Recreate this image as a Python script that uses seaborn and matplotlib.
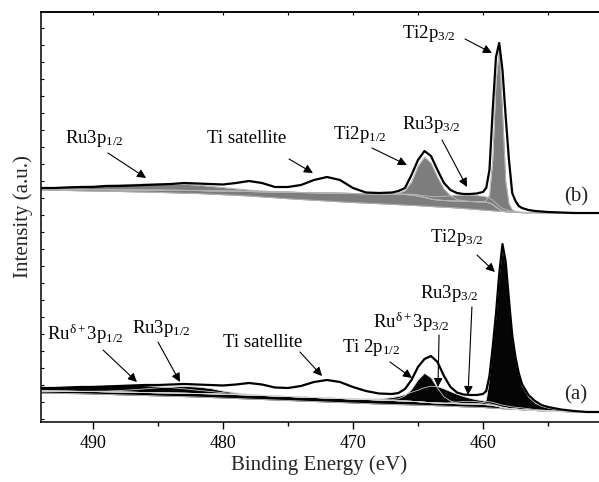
import matplotlib
matplotlib.use('Agg')
import matplotlib.pyplot as plt
import seaborn as sns

# ---------------- data (binding energy grid, eV) ----------------
be = [494, 493, 492, 491, 490, 489, 488, 487, 486, 485, 484, 483, 482, 481, 480,
      479, 478, 477, 476, 475, 474, 473, 472, 471, 470, 469, 468, 467,
      466.5, 466, 465.5, 465, 464.5, 464, 463.5, 463, 462.5, 462, 461.5, 461, 460.5, 460,
      459.75, 459.5, 459.25, 459, 458.75, 458.5, 458.25, 458, 457.75, 457.5, 457.25, 457,
      456.5, 456, 455.5, 455, 454, 453, 452, 451]

# ---- sample (b) ----
spec_b = [234, 234, 234.5, 235, 235, 236, 236, 236.5, 237, 237.5, 238, 239, 238.5, 238, 237.5,
          239, 241, 239, 235, 235, 237, 242, 245, 242, 234, 229.5, 229, 229.5,
          231, 234, 247, 262, 271, 266, 252, 239, 232, 229, 228, 228, 228.5, 230,
          234, 252, 312, 365, 379, 352, 305, 262, 229, 221, 216, 214,
          212, 211, 210.5, 210, 209.5, 209, 209, 209]
lin_b = [232, 231.8, 231.5, 231.2, 231, 230.8, 230.5, 230.2, 230, 229.6, 229.2, 228.8, 228.5, 227.9, 227.3,
         226.7, 226, 225.1, 224.2, 223.3, 222.5, 221.7, 221, 220.2, 219.5, 218.9, 218.3, 217.6,
         217.3, 217, 216.6, 216.3, 215.9, 215.5, 215.1, 214.8, 214.4, 214, 213.5, 213, 212.5, 212,
         211.7, 211.5, 211.2, 211, 210.7, 210.5, 210.2, 210, 209.8, 209.6, 209.5, 209.4,
         209.3, 209.3, 209.2, 209.2, 209.1, 209, 209, 209]
shirley_b = [233, 232.9, 232.8, 232.6, 232.5, 232.4, 232.3, 232.1, 232, 231.9, 231.7, 231.6, 231.5, 231.2, 231,
             230.8, 230.5, 230.3, 230, 229.8, 229.5, 229.3, 229, 228.8, 228.5, 228.3, 228, 227.8,
             227.7, 227.5, 227, 226, 224.5, 223, 222, 221.5, 221.2, 221, 220.8, 220.5, 220.3, 220,
             219.7, 219, 217.5, 215, 212.5, 211, 210.5, 210, 209.8, 209.6, 209.5, 209.4,
             209.3, 209.3, 209.2, 209.2, 209.1, 209, 209, 209]
ru3p12_b = [1.0, 1.5, 2.2, 2.9, 3.6, 4.3, 5.0, 5.5, 5.9, 6.2, 6.3, 6.1, 5.5, 4.6, 3.5,
            2.4, 1.5, 0.8, 0.4, 0.2, 0, 0, 0, 0, 0, 0, 0, 0,
            0, 0, 0, 0, 0, 0, 0, 0, 0, 0, 0, 0, 0, 0,
            0, 0, 0, 0, 0, 0, 0, 0, 0, 0, 0, 0,
            0, 0, 0, 0, 0, 0, 0, 0]
ti2p12_b = [0, 0, 0, 0, 0, 0, 0, 0, 0, 0, 0, 0, 0, 0, 0,
            0, 0, 0, 0, 0, 0, 0, 0, 0, 0, 0, 0, 0.3,
            1.2, 4, 13, 30, 40.5, 36, 23, 11.5, 5, 1.5, 0.4, 0.1, 0, 0,
            0, 0, 0, 0, 0, 0, 0, 0, 0, 0, 0, 0,
            0, 0, 0, 0, 0, 0, 0, 0]
ru3p32_b = [0, 0, 0, 0, 0, 0, 0, 0, 0, 0, 0, 0, 0, 0, 0,
            0, 0, 0, 0, 0, 0, 0, 0, 0, 0, 0, 0, 0,
            0, 0.5, 0.8, 1.2, 1.8, 2.5, 3.3, 4.2, 5, 5.8, 6.3, 6.5, 6.3, 5.8,
            5.4, 4.9, 4.4, 3.8, 3.2, 2.6, 2.0, 1.5, 1.1, 0.8, 0.5, 0.3,
            0.1, 0, 0, 0, 0, 0, 0, 0]
ti2p32_b = [0, 0, 0, 0, 0, 0, 0, 0, 0, 0, 0, 0, 0, 0, 0,
            0, 0, 0, 0, 0, 0, 0, 0, 0, 0, 0, 0, 0,
            0, 0, 0, 0, 0, 0, 0, 0, 0, 0, 0, 0, 0, 0.3,
            1.5, 8, 45, 125, 160, 100, 30, 8, 2.5, 1, 0.5, 0.3,
            0.1, 0, 0, 0, 0, 0, 0, 0]

# ---- sample (a) ----
spec_a = [34, 34, 34.5, 35, 35, 35.5, 36, 36.5, 37, 37, 37.5, 38, 37.5, 37, 36.5,
          37.5, 39, 37.5, 34.5, 34, 36, 40, 42, 40, 35, 31, 28.5, 28,
          29, 33, 42, 55, 63, 66, 60, 46, 35, 29.5, 27.5, 27, 27, 28,
          31, 46, 75, 108, 148, 178, 160, 122, 87, 65, 49, 38,
          27, 21, 17, 15, 12.5, 11, 10, 10]
lin_a = [29, 28.8, 28.5, 28.3, 28, 27.6, 27.2, 26.9, 26.5, 26.1, 25.7, 25.4, 25, 24.5, 24,
         23.5, 23, 22.5, 22, 21.5, 21, 20.5, 20, 19.5, 19, 18.5, 18, 17.6,
         17.4, 17.3, 17.1, 16.9, 16.7, 16.5, 16.2, 16, 15.7, 15.5, 15.2, 15, 14.8, 14.5,
         14.3, 14.1, 13.9, 13.7, 13.5, 13.3, 13.1, 13, 12.8, 12.6, 12.4, 12.2,
         11.8, 11.5, 11.2, 11, 10.5, 10.2, 10, 10]
shirley_a = [31, 30.9, 30.8, 30.6, 30.5, 30.2, 30, 29.8, 29.5, 29.2, 29, 28.8, 28.5, 28.2, 27.8,
             27.4, 27, 26.5, 26, 25.5, 25, 24.5, 24, 23.5, 23, 22.5, 22, 21.5,
             21.2, 21, 20.7, 20.3, 19.8, 19.3, 19, 18.7, 18.5, 18.3, 18.1, 18, 17.8, 17.5,
             17.3, 17, 16.6, 16, 15.2, 14.5, 14, 13.5, 13.2, 13, 12.7, 12.5,
             12, 11.5, 11.2, 11, 10.5, 10.2, 10, 10]
rud3p12_a = [2.5, 3.2, 4.0, 4.8, 5.5, 6.2, 6.7, 7.0, 6.9, 6.4, 5.5, 4.4, 3.3, 2.3, 1.5,
             0.9, 0.5, 0.2, 0.05, 0, 0, 0, 0, 0, 0, 0, 0, 0,
             0, 0, 0, 0, 0, 0, 0, 0, 0, 0, 0, 0, 0, 0,
             0, 0, 0, 0, 0, 0, 0, 0, 0, 0, 0, 0,
             0, 0, 0, 0, 0, 0, 0, 0]
ru3p12_a = [0, 0, 0.1, 0.2, 0.3, 0.7, 1.4, 2.4, 3.6, 5.0, 6.2, 6.9, 6.6, 5.5, 3.2,
            1.8, 0.8, 0.3, 0.1, 0, 0, 0, 0, 0, 0, 0, 0, 0,
            0, 0, 0, 0, 0, 0, 0, 0, 0, 0, 0, 0, 0, 0,
            0, 0, 0, 0, 0, 0, 0, 0, 0, 0, 0, 0,
            0, 0, 0, 0, 0, 0, 0, 0]
ti2p12_a = [0, 0, 0, 0, 0, 0, 0, 0, 0, 0, 0, 0, 0, 0, 0,
            0, 0, 0, 0, 0, 0, 0, 0, 0, 0, 0, 0.2, 0.8,
            2, 5, 12, 22, 29, 25, 15, 6.5, 2.5, 0.8, 0.3, 0.1, 0, 0,
            0, 0, 0, 0, 0, 0, 0, 0, 0, 0, 0, 0,
            0, 0, 0, 0, 0, 0, 0, 0]
rud3p32_a = [0, 0, 0, 0, 0, 0, 0, 0, 0, 0, 0, 0, 0, 0, 0,
             0, 0, 0, 0, 0, 0, 0, 0, 0, 0, 0.5, 1.2, 3,
             4.5, 6.5, 9, 11.5, 14.5, 16.5, 16.5, 14.5, 12, 9.5, 7.5, 5.8, 4.6, 3.8,
             3.5, 3.2, 3.0, 2.8, 2.6, 2.4, 2.3, 2.2, 1.9, 1.8, 1.7, 1.6,
             1.3, 1.0, 0.8, 0.6, 0.3, 0.1, 0, 0]
ru3p32_a = [0, 0, 0, 0, 0, 0, 0, 0, 0, 0, 0, 0, 0, 0, 0,
            0, 0, 0, 0, 0, 0, 0, 0, 0, 0, 0, 0, 0,
            0, 0, 0, 0, 0, 0, 0, 0.3, 0.8, 1.6, 2.4, 2.7, 2.5, 1.9,
            1.6, 1.3, 1.0, 0.8, 0.6, 0.4, 0.3, 0.2, 0.1, 0, 0, 0,
            0, 0, 0, 0, 0, 0, 0, 0]
ti2p32_a = [0, 0, 0, 0, 0, 0, 0, 0, 0, 0, 0, 0, 0, 0, 0,
            0, 0, 0, 0, 0, 0, 0, 0, 0, 0, 0, 0, 0,
            0, 0, 0, 0, 0, 0, 0, 0, 0, 0, 0, 0, 0.5, 1.5,
            5, 27, 58, 90, 130, 160, 144, 106, 72, 50, 35, 24,
            13, 7.5, 4.5, 3, 1.2, 0.4, 0.1, 0]

# ---------------- style ----------------
sns.set_theme(style='ticks')
plt.rcParams['font.family'] = ['Liberation Serif', 'DejaVu Serif']
plt.rcParams['mathtext.fontset'] = 'stix'
plt.rcParams['mathtext.default'] = 'regular'
plt.rcParams['axes.linewidth'] = 1.1
plt.rcParams['axes.edgecolor'] = 'black'
plt.rcParams['xtick.color'] = 'black'
plt.rcParams['ytick.color'] = 'black'

fig = plt.figure(figsize=(5.99, 4.82), dpi=100)
ax = fig.add_axes([41 / 599, 60 / 482, 560 / 599, 410 / 482])


def draw_panel(spec, lin, shir, comps, fill, edge, elw):
    ax.fill_between(be, lin, shir, color=fill, lw=0, zorder=1)
    tops = [[s + v for s, v in zip(shir, c)] for c in comps]
    for top in tops:
        ax.fill_between(be, shir, top, color=fill, lw=0, zorder=1)
    for top in tops:
        sns.lineplot(x=be, y=top, ax=ax, color=edge, lw=elw, sort=False,
                     estimator=None, legend=False, zorder=2)
    for bg in (lin, shir):
        sns.lineplot(x=be, y=bg, ax=ax, color=edge, lw=elw, sort=False,
                     estimator=None, legend=False, zorder=2)
    sns.lineplot(x=be, y=spec, ax=ax, color='black', lw=1.6, sort=False,
                 estimator=None, legend=False, zorder=3)


draw_panel(spec_b, lin_b, shirley_b, [ru3p12_b, ti2p12_b, ru3p32_b, ti2p32_b],
           '#7d7d7d', '#b3b3b3', 0.7)
draw_panel(spec_a, lin_a, shirley_a, [rud3p12_a, ru3p12_a, ti2p12_a, rud3p32_a, ru3p32_a, ti2p32_a],
           '#050505', '#d4d4d4', 0.55)

ax.set_xlim(494, 450.92)
ax.set_ylim(0, 410)

ax.set_xticks([490, 480, 470, 460])
ax.set_xticks([485, 475, 465, 455], minor=True)
ax.tick_params(axis='x', which='major', direction='out', length=5, width=1.0,
               labelsize=13, pad=4.5, top=False)
ax.tick_params(axis='x', which='minor', direction='out', length=3, width=1.0, top=False)
ax.set_yticks(list(range(3, 410, 17)))
ax.tick_params(axis='y', which='major', direction='in', length=2, width=0.8,
               labelleft=False, right=False)

top_ax = ax.secondary_xaxis('top')
top_ax.set_xticks([490, 485, 480, 475, 470, 465, 460, 455])
top_ax.tick_params(direction='in', length=2.5, width=0.8, labeltop=False)

ax.set_xlabel('Binding Energy (eV)', fontsize=15)
ax.set_ylabel('Intensity (a.u.)', fontsize=15)
ax.xaxis.set_label_coords(0.497, -0.0815)
ax.yaxis.set_label_coords(-0.014, 0.5)

for s in ('top', 'bottom', 'left', 'right'):
    ax.spines[s].set_color('black')

FS = 13.5


def label(txt, tx, ty, x0, y0, x1, y1):
    ax.text(tx, ty, txt, fontsize=FS, ha='left', va='baseline', color='black', zorder=5)
    ax.annotate('', xy=(x1, y1), xytext=(x0, y0), zorder=5,
                arrowprops=dict(arrowstyle='-|>', color='black', lw=0.8,
                                mutation_scale=13, shrinkA=0, shrinkB=0))


# sample (b)
label('Ru3p$_{1/2}$', 492.15, 279, 488.85, 269, 485.92, 244)
label('Ti satellite', 481.23, 279, 474.92, 263, 473.08, 249)
label('Ti2p$_{1/2}$', 471.54, 283, 468.54, 274, 465.85, 257)
label('Ru3p$_{3/2}$', 466.23, 293, 463.15, 282, 461.23, 235)
label('Ti2p$_{3/2}$', 466.23, 384, 461.38, 383, 459.31, 369)
ax.text(452.85, 225, '(b)', fontsize=15, ha='center', va='center')

# sample (a)
label(r'Ru$^{\delta+}$3p$_{1/2}$', 493.54, 82, 489.23, 72, 486.62, 40)
label('Ru3p$_{1/2}$', 487.0, 89, 485.0, 80, 483.31, 40)
label('Ti satellite', 480.0, 75, 474.08, 70, 472.38, 46)
label('Ti 2p$_{1/2}$', 470.85, 70, 467.15, 60, 465.46, 44)
label(r'Ru$^{\delta+}$3p$_{3/2}$', 468.46, 94, 463.38, 87, 463.46, 35)
label('Ru3p$_{3/2}$', 464.85, 124, 460.85, 115, 461.15, 27)
label('Ti2p$_{3/2}$', 464.08, 180, 460.46, 167, 459.08, 150)
ax.text(452.85, 27, '(a)', fontsize=15, ha='center', va='center')

fig.savefig('out.png', dpi=100)
